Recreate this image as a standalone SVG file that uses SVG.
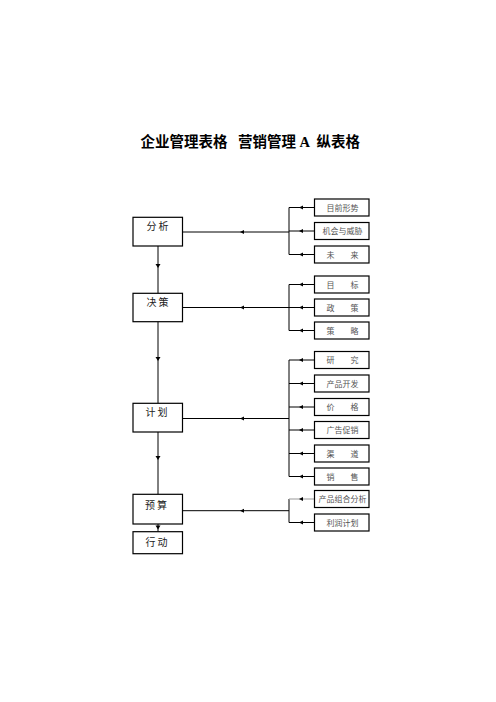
<svg xmlns="http://www.w3.org/2000/svg" xmlns:xlink="http://www.w3.org/1999/xlink" width="496" height="702" viewBox="0 0 496 702">
<style>
.bg{fill:#fff}
.ln{fill:none;stroke:#000;stroke-width:1}
.gl{fill:none;stroke:#aaa;stroke-width:1.2}
.box{fill:#fff;stroke:#000;stroke-width:1.2}
.ttl{font-family:"Noto Sans CJK SC","Noto Sans CJK JP",sans-serif;font-size:14.5px;font-weight:bold;fill:#000}
.lt{font-family:"Noto Sans CJK SC","Noto Sans CJK JP",sans-serif;font-size:10px;font-weight:normal;letter-spacing:2px;fill:#222;text-anchor:middle}
.rt{font-family:"Noto Sans CJK SC","Noto Sans CJK JP",serif;font-size:8px;fill:#555;text-anchor:middle}
</style>
<defs>
<path id="al" d="M0,0 L4,-2 L4,2 Z" fill="#000"/>
<path id="ad" d="M0,0 L-2.5,-4 L2.5,-4 Z" fill="#000"/>
</defs>
<rect class="bg" x="0" y="0" width="496" height="702"/>
<text class="ttl" y="146.5"><tspan x="140.5">企业管理表格 </tspan><tspan x="238">营销管理 </tspan><tspan x="299.5" font-family="Liberation Serif, serif">A </tspan><tspan x="316.5">纵表格</tspan></text>

<g id="connectors">
<path class="ln" d="M158,246 V293.3 M158,321.7 V403.3 M158,432 V494.3 M158,524 V531.7"/>
<use xlink:href="#ad" x="158" y="268"/>
<use xlink:href="#ad" x="158" y="361"/>
<use xlink:href="#ad" x="158" y="460"/>
<use xlink:href="#ad" x="158" y="529.5"/>
<path class="ln" d="M183,232 H289 M289,207.5 V254.5 M289,207.5 H314.5 M289,231 H314.5 M289,254.5 H314.5"/>
<use xlink:href="#al" x="240" y="232"/>
<use xlink:href="#al" x="299" y="207.5"/>
<use xlink:href="#al" x="299" y="231"/>
<use xlink:href="#al" x="299" y="254.5"/>
<path class="ln" d="M183,307.5 H289 M289,284.5 V330.5 M289,284.5 H314.5 M289,307.5 H314.5 M289,330.5 H314.5"/>
<use xlink:href="#al" x="240" y="307.5"/>
<use xlink:href="#al" x="299" y="284.5"/>
<use xlink:href="#al" x="299" y="307.5"/>
<use xlink:href="#al" x="299" y="330.5"/>
<path class="ln" d="M183,418.5 H289 M289,360 V476.5 M289,360 H314.5 M289,383.5 H314.5 M289,407 H314.5 M289,430 H314.5 M289,453.5 H314.5 M289,476.5 H314.5"/>
<use xlink:href="#al" x="240" y="418.5"/>
<use xlink:href="#al" x="299" y="360"/>
<use xlink:href="#al" x="299" y="383.5"/>
<use xlink:href="#al" x="299" y="407"/>
<use xlink:href="#al" x="299" y="430"/>
<use xlink:href="#al" x="299" y="453.5"/>
<use xlink:href="#al" x="299" y="476.5"/>
<path class="ln" d="M183,510.7 H289 M289,499 V522.5 M289,522.5 H314.5"/>
<path class="gl" d="M289,499 H314.5"/>
<use xlink:href="#al" x="240" y="510.7"/>
<use xlink:href="#al" x="299" y="499"/>
<use xlink:href="#al" x="299" y="522.5"/>
</g>

<g id="n-fenxi"><rect class="box" x="133" y="217.3" width="49.5" height="28.7"/><text class="lt" x="158.5" y="230">分析</text></g>
<g id="n-juece"><rect class="box" x="133" y="293.3" width="49.5" height="28.4"/><text class="lt" x="158.5" y="306">决策</text></g>
<g id="n-jihua"><rect class="box" x="133" y="403.3" width="49.5" height="28.7"/><text class="lt" x="157.5" y="416">计划</text></g>
<g id="n-yusuan"><rect class="box" x="133" y="494.3" width="49.5" height="29.7"/><text class="lt" x="157" y="509">预算</text></g>
<g id="n-xingdong"><rect class="box" x="133" y="531.7" width="49.5" height="22"/><text class="lt" x="157.5" y="545.5">行动</text></g>

<g id="r-mqxs"><rect class="box" x="314.5" y="199" width="54.5" height="17"/><text class="rt" x="342.5" y="210.5">目前形势</text></g>
<g id="r-jhyw"><rect class="box" x="314.5" y="222.5" width="54.5" height="17"/><text class="rt" x="342.5" y="234">机会与威胁</text></g>
<g id="r-wl"><rect class="box" x="314.5" y="246" width="54.5" height="17"/><text class="rt" x="342.5" y="257.5">未　　来</text></g>

<g id="r-mb"><rect class="box" x="314.5" y="276" width="54.5" height="17"/><text class="rt" x="342.5" y="287.5">目　　标</text></g>
<g id="r-zc"><rect class="box" x="314.5" y="299" width="54.5" height="17"/><text class="rt" x="342.5" y="310.5">政　　策</text></g>
<g id="r-cl"><rect class="box" x="314.5" y="322" width="54.5" height="17"/><text class="rt" x="342.5" y="333.5">策　　略</text></g>

<g id="r-yj"><rect class="box" x="314.5" y="351.5" width="54.5" height="17"/><text class="rt" x="342.5" y="363">研　　究</text></g>
<g id="r-cpkf"><rect class="box" x="314.5" y="375" width="54.5" height="17"/><text class="rt" x="342.5" y="386.5">产品开发</text></g>
<g id="r-jg"><rect class="box" x="314.5" y="398.5" width="54.5" height="17"/><text class="rt" x="342.5" y="410">价　　格</text></g>
<g id="r-ggcx"><rect class="box" x="314.5" y="421.5" width="54.5" height="17"/><text class="rt" x="342.5" y="433">广告促销</text></g>
<g id="r-qd"><rect class="box" x="314.5" y="445" width="54.5" height="17"/><text class="rt" x="342.5" y="456.5">渠　　道</text></g>
<g id="r-xs"><rect class="box" x="314.5" y="468" width="54.5" height="17"/><text class="rt" x="342.5" y="479.5">销　　售</text></g>

<g id="r-cpzh"><rect class="box" x="314.5" y="490.5" width="54.5" height="17"/><text class="rt" x="342.5" y="502">产品组合分析</text></g>
<g id="r-lrjh"><rect class="box" x="314.5" y="514" width="54.5" height="17"/><text class="rt" x="342.5" y="525.5">利润计划</text></g>
</svg>
